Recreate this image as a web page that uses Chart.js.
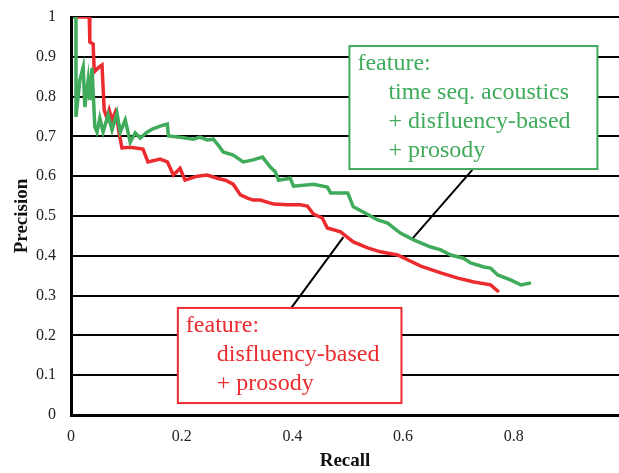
<!DOCTYPE html>
<html>
<head>
<meta charset="utf-8">
<script src="https://cdn.jsdelivr.net/npm/chart.js@4.4.1/dist/chart.umd.min.js"></script>
<style>
  html, body { margin: 0; padding: 0; background: #fff; overflow: hidden; }
  #wrap { position: relative; width: 619px; height: 473px; }
</style>
</head>
<body>
<div id="wrap"><canvas id="myChart"></canvas></div>
<script>
// recall / precision
const greenRecall = [0.004, 0.009, 0.009, 0.016, 0.022, 0.025, 0.031, 0.034, 0.038, 0.043, 0.047, 0.052, 0.058, 0.067,
  0.074, 0.083, 0.089, 0.098, 0.107, 0.116, 0.125, 0.138, 0.148, 0.161, 0.174, 0.176, 0.197, 0.221, 0.233, 0.246,
  0.257, 0.266, 0.275, 0.293, 0.311, 0.329, 0.346, 0.360, 0.369, 0.375, 0.396, 0.402, 0.438, 0.463, 0.469, 0.500,
  0.510, 0.528, 0.554, 0.572, 0.595, 0.619, 0.650, 0.668, 0.686, 0.709, 0.722, 0.746, 0.758, 0.771, 0.795, 0.813, 0.831];
const greenPrecision = [1.0, 1.0, 0.749, 0.842, 0.874, 0.774, 0.842, 0.791, 0.872, 0.724, 0.711, 0.746, 0.711, 0.754,
  0.716, 0.759, 0.711, 0.741, 0.686, 0.709, 0.696, 0.711, 0.719, 0.726, 0.731, 0.701, 0.698, 0.693, 0.698, 0.691,
  0.693, 0.678, 0.661, 0.653, 0.636, 0.641, 0.648, 0.623, 0.611, 0.590, 0.595, 0.575, 0.580, 0.573, 0.558, 0.558,
  0.523, 0.510, 0.490, 0.482, 0.457, 0.440, 0.422, 0.415, 0.402, 0.394, 0.382, 0.372, 0.369, 0.352, 0.339, 0.327, 0.332];

const redRecall = [0.005, 0.033, 0.034, 0.040, 0.042, 0.049, 0.056, 0.060, 0.065, 0.069, 0.074, 0.080, 0.083, 0.087,
  0.092, 0.107, 0.130, 0.139, 0.161, 0.174, 0.185, 0.197, 0.206, 0.228, 0.246, 0.264, 0.279, 0.293, 0.306, 0.319,
  0.329, 0.342, 0.366, 0.391, 0.414, 0.427, 0.438, 0.454, 0.463, 0.487, 0.510, 0.536, 0.559, 0.590, 0.608, 0.632,
  0.668, 0.699, 0.728, 0.758, 0.773];
const redPrecision = [1.0, 1.0, 0.937, 0.932, 0.862, 0.872, 0.879, 0.766, 0.746, 0.766, 0.741, 0.761, 0.746, 0.708,
  0.671, 0.673, 0.668, 0.636, 0.643, 0.636, 0.603, 0.620, 0.590, 0.600, 0.603, 0.595, 0.590, 0.580, 0.553, 0.545,
  0.540, 0.540, 0.530, 0.528, 0.528, 0.525, 0.505, 0.495, 0.470, 0.460, 0.435, 0.420, 0.410, 0.402, 0.390, 0.374,
  0.357, 0.344, 0.334, 0.327, 0.309];

const xTickValues = [0, 0.2, 0.4, 0.6, 0.8];

const greenLabel = ['feature:', 'time seq. acoustics', '+ disfluency-based', '+ prosody'];
const redLabel = ['feature:', 'disfluency-based', '+ prosody'];

const GREEN = '#3FAB5B';
const RED = '#EC2B2F';
const SERIF = "'Liberation Serif', 'Times New Roman', serif";

function toPoints(xs, ys) {
  return xs.map((x, i) => ({x: x, y: ys[i]}));
}

// callout boxes, in data units
const callouts = [
  {color: GREEN, lines: greenLabel, box: [0.503, 0.951, 0.618, 0.927], from: [0.725, 0.616], to: [0.618, 0.445]},
  {color: RED, lines: redLabel, box: [0.193, 0.597, 0.030, 0.269], from: [0.398, 0.269], to: [0.492, 0.447]}
];

const calloutPlugin = {
  id: 'callouts',
  afterDatasetsDraw(chart) {
    const ctx = chart.ctx;
    const xs = chart.scales.x, ys = chart.scales.y;
    ctx.save();
    callouts.forEach(c => {
      // leader line
      ctx.strokeStyle = '#000';
      ctx.lineWidth = 2;
      ctx.beginPath();
      ctx.moveTo(xs.getPixelForValue(c.from[0]), ys.getPixelForValue(c.from[1]));
      ctx.lineTo(xs.getPixelForValue(c.to[0]), ys.getPixelForValue(c.to[1]));
      ctx.stroke();

      const l = xs.getPixelForValue(c.box[0]), r = xs.getPixelForValue(c.box[1]);
      const b = ys.getPixelForValue(c.box[2]), t = ys.getPixelForValue(c.box[3]);
      ctx.fillStyle = '#fff';
      ctx.fillRect(l, t, r - l, b - t);
      ctx.strokeStyle = c.color;
      ctx.lineWidth = 2;
      ctx.strokeRect(l, t, r - l, b - t);

      ctx.fillStyle = c.color;
      ctx.font = '24px ' + SERIF;
      ctx.textBaseline = 'middle';
      ctx.textAlign = 'left';
      c.lines.forEach((txt, i) => {
        ctx.fillText(txt, l + (i === 0 ? 8 : 39), t + 18 + i * 29);
      });
    });
    ctx.restore();
  }
};

const ctx = document.getElementById('myChart').getContext('2d');
const myChart = new Chart(ctx, {
  type: 'scatter',
  data: {
    datasets: [{
      data: toPoints(greenRecall, greenPrecision),
      showLine: true,
      borderColor: GREEN,
      borderWidth: 3.5,
      pointRadius: 0,
      tension: 0
    }, {
      data: toPoints(redRecall, redPrecision),
      showLine: true,
      borderColor: RED,
      borderWidth: 3.5,
      pointRadius: 0,
      tension: 0
    }]
  },
  options: {
    responsive: true,
    maintainAspectRatio: false,
    animation: false,
    layout: { padding: { top: 17, right: 0, bottom: 0, left: 0 } },
    plugins: {
      legend: { display: false },
      tooltip: { enabled: false }
    },
    scales: {
      x: {
        type: 'linear',
        min: 0,
        max: 0.99,
        afterBuildTicks: (scale) => { scale.ticks = xTickValues.map(v => ({value: v})); },
        afterFit: (scale) => { scale.height = 58; },
        grid: { display: false, drawTicks: false },
        border: { display: true, color: '#000', width: 3 },
        ticks: { padding: 12, color: '#222', font: { family: SERIF, size: 16 }, maxRotation: 0,
                 callback: (v) => String(Math.round(v * 10) / 10) },
        title: { display: true, text: 'Recall', color: '#111', padding: { top: 0, bottom: 1 },
                 font: { family: SERIF, size: 19, weight: 'bold' } }
      },
      y: {
        min: 0,
        max: 1,
        afterFit: (scale) => { scale.width = 71; scale.paddingTop = 0; scale.paddingBottom = 0; },
        ticks: { stepSize: 0.1, padding: 15, color: '#222', font: { family: SERIF, size: 16 },
                 callback: (v) => String(Math.round(v * 10) / 10) },
        grid: { color: '#000', lineWidth: 2, drawTicks: false },
        border: { display: true, color: '#000', width: 3 },
        title: { display: true, text: 'Precision', color: '#111', padding: { top: 11, bottom: 0 },
                 font: { family: SERIF, size: 19, weight: 'bold' } }
      }
    }
  },
  plugins: [calloutPlugin]
});
</script>
</body>
</html>
